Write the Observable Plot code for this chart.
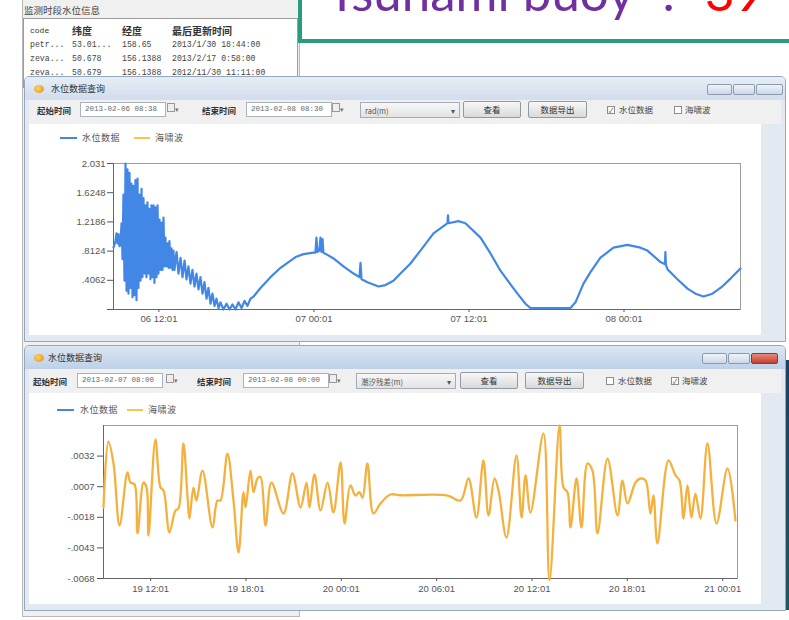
<!DOCTYPE html>
<html><head><meta charset="utf-8">
<script src="https://cdn.jsdelivr.net/npm/d3@7"></script>
<script src="https://cdn.jsdelivr.net/npm/@observablehq/plot@0.6"></script>
<style>
html,body{margin:0;padding:0;background:#fff;}
#root{position:relative;width:789px;height:620px;overflow:hidden;font-family:"Noto Sans CJK SC","Noto Sans",sans-serif;color:#444;}
#root *{box-sizing:border-box;}
.a{position:absolute;white-space:nowrap;}
.mono{font-family:"Liberation Mono","DejaVu Sans Mono",monospace;}
.inp{height:15px;border:1px solid #a9b3c0;background:#fff;font-size:7.5px;color:#666;padding:2px 0 0 4px;}
.cal{width:16px;height:14px;font-size:7px;color:#777;}
.combo{height:16px;border:1px solid #a4acb8;background:linear-gradient(#f7f7f7,#e3e3e3);font-size:7.5px;color:#555;padding:2px 0 0 4px;}
.btn{height:17px;border:1px solid #8f9aa8;border-radius:2px;background:linear-gradient(#f7f7f7,#dadada);font-size:8.5px;color:#333;text-align:center;line-height:15px;}
.chk{width:8px;height:8px;border:1px solid #8d8d8d;background:#fff;font-size:7px;line-height:6px;text-align:center;color:#555;}
.lbl{font-size:8.5px;color:#333;font-weight:bold;}
.wbtn{height:11px;border:1px solid #8b9bb0;background:linear-gradient(#eef3f9,#cdd8e6);border-radius:2px;}
</style></head>
<body><div id="root"></div>
<script>
// ---------- data ----------
const titleText = "Tsunami buoy";
const titleNumber = "39";
const panelTitle = "监测时段水位信息";
const tableHeader = ["code", "纬度", "经度", "最后更新时间"];
const tableRows = [
  ["petr...", "53.01...", "158.65", "2013/1/30 18:44:00"],
  ["zeva...", "50.678", "156.1388", "2013/2/17 0:58:00"],
  ["zeva...", "50.679", "156.1388", "2012/11/30 11:11:00"]
];
const windowTitle = "水位数据查询";
const seriesNames = ["水位数据", "海啸波"];
const seriesColors = ["#4287e6", "#f5b13f"];

// chart 1: water level (m)
const levelStart = "2013-02-06 08:30";
const levelEnd = "2013-02-08 09:02";
const levelHours = [0.00,0.15,0.23,0.31,0.39,0.46,0.54,0.62,0.70,0.77,0.85,0.93,1.01,1.08,1.16,1.24,1.32,1.39,1.47,1.55,1.63,1.70,1.78,1.86,1.93,2.01,2.09,2.17,2.24,2.32,2.40,2.48,2.55,2.63,2.71,2.79,2.86,2.94,3.02,3.10,3.17,3.25,3.33,3.41,3.48,3.56,3.64,3.72,3.79,3.87,3.95,4.02,4.10,4.18,4.26,4.33,4.41,4.49,4.57,4.64,4.72,4.88,5.03,5.19,5.34,5.50,5.65,5.80,5.96,6.11,6.27,6.42,6.58,6.73,6.89,7.04,7.20,7.35,7.51,7.66,7.82,7.97,8.13,8.28,8.51,8.75,8.98,9.21,9.44,9.67,9.91,10.14,10.37,10.60,10.84,11.38,12.15,12.93,13.47,14.09,14.71,15.48,15.63,15.71,15.79,15.94,16.02,16.10,16.18,16.25,16.56,17.03,17.80,18.58,19.04,19.12,19.20,19.66,20.51,21.05,21.67,22.21,22.99,23.76,24.77,25.70,25.85,25.89,25.93,26.70,27.24,28.41,29.18,29.95,30.73,31.27,31.89,32.28,35.37,35.76,36.38,36.92,37.69,38.70,39.78,40.79,41.33,42.34,42.69,42.72,42.76,42.88,43.65,44.43,45.05,45.67,46.36,47.06,47.76,48.53];
const levelValues = [0.86,0.95,1.06,0.92,1.05,0.88,0.90,1.20,0.70,1.60,0.40,2.03,0.26,1.95,0.22,1.90,0.30,1.75,0.17,1.72,0.20,1.80,0.13,1.82,0.30,1.60,0.40,1.68,0.45,1.55,0.50,1.45,0.45,1.49,0.50,1.40,0.42,1.45,0.45,1.45,0.37,1.42,0.45,1.45,0.50,1.25,0.55,1.21,0.55,1.28,0.60,1.00,0.60,0.92,0.58,0.95,0.58,0.85,0.55,0.82,0.55,0.80,0.50,0.72,0.45,0.68,0.42,0.60,0.36,0.55,0.32,0.50,0.28,0.45,0.22,0.38,0.15,0.30,0.08,0.22,0.05,0.15,0.02,0.10,0.00,0.08,0.00,0.07,0.00,0.10,0.02,0.12,0.05,0.15,0.18,0.30,0.45,0.58,0.65,0.73,0.77,0.79,0.79,1.00,0.80,0.82,1.00,0.80,0.98,0.79,0.76,0.71,0.60,0.50,0.45,0.65,0.42,0.38,0.32,0.34,0.40,0.50,0.64,0.82,1.06,1.18,1.20,1.31,1.20,1.23,1.20,1.00,0.78,0.54,0.35,0.22,0.08,0.02,0.02,0.10,0.36,0.52,0.72,0.86,0.90,0.86,0.82,0.66,0.63,0.80,0.62,0.56,0.42,0.29,0.22,0.18,0.22,0.31,0.43,0.57];
const levelYTicks = [0, 0.4062, 0.8124, 1.2186, 1.6248, 2.031];
const levelYLabels = ["", ".4062", ".8124", "1.2186", "1.6248", "2.031"];
const levelXTicks = ["2013-02-06 12:01", "2013-02-07 00:01", "2013-02-07 12:01", "2013-02-08 00:01"];

// chart 2: tsunami wave (m)
const waveStart = "2013-02-19 09:03";
const waveEnd = "2013-02-21 00:57";
const waveHours = [0,0.31,0.63,1.01,1.51,1.70,1.95,2.14,2.52,2.71,2.83,3.27,3.59,3.78,4.15,4.53,4.72,5.03,5.29,5.41,5.66,5.85,6.23,6.86,7.17,7.36,7.80,8.18,8.50,8.81,8.94,9.25,9.44,9.69,9.88,10.20,10.57,11.33,11.89,12.40,12.78,12.96,13.28,13.66,14.10,14.47,14.92,15.17,15.54,15.86,16.11,16.30,16.61,16.99,17.43,18.06,18.69,21.65,22.47,22.97,23.47,23.91,24.23,24.61,24.86,25.36,25.99,26.31,26.56,26.87,27.69,28.07,28.70,28.95,29.20,29.39,29.77,30.08,30.46,30.77,31.09,31.72,32.35,32.66,32.98,33.48,33.79,34.11,34.42,34.61,34.86,35.56,36.00,36.25,36.50,36.75,37.00,37.25,37.57,38.01,38.58,39.27,39.77];
const waveValues = [-0.00100,0.00439,0.00260,-0.00247,0.00186,0.00104,0.00090,-0.00312,0.00104,0.00063,-0.00329,0.00456,0.00063,0.00039,-0.00304,-0.00124,-0.00108,0.00423,-0.00018,-0.00190,0.00063,-0.00043,0.00202,-0.00263,-0.00043,-0.00043,0.00341,-0.00043,-0.00468,0.00025,-0.00098,0.00202,0.00025,0.00137,0.00150,-0.00247,0.00104,-0.00149,0.00178,-0.00100,0.00104,-0.00100,0.00170,-0.00124,0.00104,-0.00140,0.00268,-0.00231,0.00080,-0.00002,0.00025,-0.00020,0.00260,-0.00149,-0.00067,0.00006,0.00000,-0.00002,-0.00043,0.00137,-0.00182,0.00284,-0.00165,0.00137,0.00039,-0.00345,0.00325,-0.00182,0.00162,-0.00141,0.00505,-0.00696,0.00570,0.00063,0.00025,-0.00263,0.00137,-0.00263,0.00260,0.00202,-0.00312,0.00300,-0.00165,0.00121,-0.00067,0.00104,0.00137,0.00121,-0.00149,-0.00002,-0.00394,0.00284,0.00162,0.00121,-0.00190,0.00080,-0.00182,0.00014,-0.00190,0.00423,-0.00231,0.00219,-0.00206];
const waveYTicks = [-0.0068, -0.0043, -0.0018, 0.0007, 0.0032];
const waveYLabels = ["-.0068", "-.0043", "-.0018", ".0007", ".0032"];
const waveYMax = 0.0057;
const waveXTicks = ["2013-02-19 12:01", "2013-02-19 18:01", "2013-02-20 00:01", "2013-02-20 06:01", "2013-02-20 12:01", "2013-02-20 18:01", "2013-02-21 00:01"];

// window controls
const win1Controls = {start: "2013-02-06 08:38", end: "2013-02-08 08:30", combo: "rad(m)", checks: [true, false]};
const win2Controls = {start: "2013-02-07 08:00", end: "2013-02-08 00:00", combo: "潮汐残差(m)", checks: [false, true]};
const labels = {start: "起始时间", end: "结束时间", view: "查看", export: "数据导出"};

// ---------- page ----------
const root = document.getElementById("root");
const add = (h) => root.insertAdjacentHTML("beforeend", h);

// background info panel
add(`<div class="a" style="left:22px;top:-2px;width:278px;height:619px;background:#f0f0f0;border:1px solid #b8b8b8"></div>`);
add(`<div class="a" style="left:24px;top:3px;font-size:9.5px;color:#444">${panelTitle}</div>`);
add(`<div class="a" style="left:23px;top:18px;width:275px;height:70px;background:#fff;border:1px solid #9d9d9d"></div>`);
const colX = [30, 72, 122, 172];
tableHeader.forEach((t, i) => add(`<div class="a ${i === 0 ? "mono" : ""}" style="left:${colX[i]}px;top:${i === 0 ? 26 : 23}px;font-size:${i === 0 ? 8 : 10}px;color:#333;font-weight:${i === 0 ? "normal" : "bold"}">${t}</div>`));
tableRows.forEach((r, j) => r.forEach((t, i) => add(`<div class="a mono" style="left:${colX[i]}px;top:${40 + j * 14}px;font-size:8.2px;color:#444">${t}</div>`)));

// title box
add(`<div class="a" style="left:298px;top:-12px;width:500px;height:55px;background:#fff;border:4px solid #2b9b80"></div>`);
add(`<div class="a" style="left:327px;top:-34px;font-family:Lato,'Open Sans',sans-serif;font-size:51px;line-height:51px;color:#7030a0">${titleText}<span style="margin-left:28px">:</span><span style="margin-left:30px;color:#ff0000">${titleNumber}</span></div>`);

// desktop strip
add(`<div class="a" style="left:782px;top:360px;width:10px;height:250px;background:linear-gradient(#1d3f63,#20575e)"></div>`);

function windowFrame(top, height, active) {
  const g = active ? "linear-gradient(#dbe6f3,#bed1e8)" : "linear-gradient(#e6edf6,#d1dded)";
  add(`<div class="a" style="left:24px;top:${top}px;width:762px;height:${height}px;background:#e3e9f1;border:1px solid #95a7be;border-radius:5px 5px 0 0"></div>`);
  add(`<div class="a" style="left:25px;top:${top + 1}px;width:760px;height:23px;background:${g};border-radius:4px 4px 0 0"></div>`);
  add(`<div class="a" style="left:29px;top:${top + 24}px;width:752px;height:24px;background:#f0f0f0"></div>`);
  add(`<div class="a" style="left:29px;top:${top + 48}px;width:732px;height:${height - 55}px;background:#fff"></div>`);
  add(`<div class="a" style="left:34px;top:${top + 9}px;width:10px;height:8px;border-radius:50%;background:radial-gradient(circle at 40% 40%,#ffd35a,#e08a1e)"></div>`);
  add(`<div class="a" style="left:${active ? 48 : 51}px;top:${top + 6}px;font-size:9px;color:#333">${windowTitle}</div>`);
  const bx = active ? 702 : 707;
  add(`<div class="a wbtn" style="left:${bx}px;top:${top + 8}px;width:25px"></div>`);
  add(`<div class="a wbtn" style="left:${bx + 26}px;top:${top + 8}px;width:22px"></div>`);
  add(`<div class="a wbtn" style="left:${bx + 49}px;top:${top + 8}px;width:27px;${active ? "background:linear-gradient(#e88a7c,#c4402f);border-color:#8e3a30" : ""}"></div>`);
}
function toolbar(y, x, c) {
  add(`<div class="a lbl" style="left:${x[0]}px;top:${y - 6}px">${labels.start}</div>`);
  add(`<div class="a inp mono" style="left:${x[1]}px;top:${y - 8}px;width:86px">${c.start}</div>`);
  add(`<div class="a cal" style="left:${x[2]}px;top:${y - 7}px"><span style="display:inline-block;width:8px;height:9px;border:1px solid #999;background:#eee"></span>▾</div>`);
  add(`<div class="a lbl" style="left:${x[3]}px;top:${y - 6}px">${labels.end}</div>`);
  add(`<div class="a inp mono" style="left:${x[4]}px;top:${y - 8}px;width:86px">${c.end}</div>`);
  add(`<div class="a cal" style="left:${x[5]}px;top:${y - 7}px"><span style="display:inline-block;width:8px;height:9px;border:1px solid #999;background:#eee"></span>▾</div>`);
  add(`<div class="a combo" style="left:${x[6]}px;top:${y - 8}px;width:100px">${c.combo}<span style="position:absolute;right:4px;top:2px">▾</span></div>`);
  add(`<div class="a btn" style="left:${x[7]}px;top:${y - 9}px;width:58px">${labels.view}</div>`);
  add(`<div class="a btn" style="left:${x[8]}px;top:${y - 9}px;width:59px">${labels.export}</div>`);
  add(`<div class="a chk" style="left:${x[9]}px;top:${y - 4}px">${c.checks[0] ? "✓" : ""}</div>`);
  add(`<div class="a" style="left:${x[9] + 12}px;top:${y - 7}px;font-size:8.5px;color:#444">${seriesNames[0]}</div>`);
  add(`<div class="a chk" style="left:${x[10]}px;top:${y - 4}px">${c.checks[1] ? "✓" : ""}</div>`);
  add(`<div class="a" style="left:${x[10] + 11}px;top:${y - 7}px;font-size:8.5px;color:#444">${seriesNames[1]}</div>`);
}
function legend(y, x) {
  add(`<div class="a" style="left:${x[0]}px;top:${y - 1}px;width:17px;height:2px;background:${seriesColors[0]}"></div>`);
  add(`<div class="a" style="left:${x[1]}px;top:${y - 7}px;font-size:9px;letter-spacing:0.5px;color:#555">${seriesNames[0]}</div>`);
  add(`<div class="a" style="left:${x[2]}px;top:${y - 1}px;width:16px;height:2px;background:#f5c64a"></div>`);
  add(`<div class="a" style="left:${x[3]}px;top:${y - 7}px;font-size:9px;letter-spacing:0.5px;color:#555">${seriesNames[1]}</div>`);
}

windowFrame(76, 266, false);
toolbar(110, [37, 80, 167, 202, 246, 332, 360, 463, 528, 607, 674], win1Controls);
legend(138, [60, 82, 134, 155]);

windowFrame(345, 266, true);
toolbar(381, [33, 77, 166, 197, 243, 329, 356, 460, 525, 606, 671], win2Controls);
legend(410, [57, 80, 127, 148]);

// ---------- charts ----------
const parse = d3.utcParse("%Y-%m-%d %H:%M");
const fmt = d3.utcFormat("%d %H:%M");

function series(start, hours, values) {
  const t0 = parse(start).getTime();
  return hours.map((h, i) => ({t: new Date(t0 + h * 3600e3), v: values[i]}));
}

function place(svg, left, top) {
  const d = document.createElement("div");
  d.className = "a";
  d.style.left = left + "px";
  d.style.top = top + "px";
  d.appendChild(svg);
  root.appendChild(d);
}

const axisStyle = {fontSize: "9.5px", fontFamily: "'Liberation Sans',Arial,sans-serif", color: "#555", background: "transparent", overflow: "visible"};

const levelData = series(levelStart, levelHours, levelValues);
const chart1 = Plot.plot({
  width: 700, height: 180,
  marginLeft: 53, marginRight: 20, marginTop: 13, marginBottom: 21,
  style: axisStyle,
  x: {type: "utc", domain: [parse(levelStart), parse(levelEnd)], ticks: levelXTicks.map(parse), tickFormat: fmt, tickSize: 3, tickPadding: 3, label: null},
  y: {domain: [0, levelYTicks[levelYTicks.length - 1]], ticks: levelYTicks, tickFormat: d => levelYLabels[levelYTicks.indexOf(d)], tickSize: 6, tickPadding: 2, label: null},
  marks: [
    Plot.frame({stroke: "#9d9d9d"}),
    Plot.ruleX([parse(levelStart)], {stroke: "#666"}),
    Plot.ruleY([0], {stroke: "#666"}),
    Plot.line(levelData, {x: "t", y: "v", stroke: seriesColors[0], strokeWidth: 2.2, strokeLinejoin: "round"})
  ]
});
place(chart1, 60, 150);

const waveData = series(waveStart, waveHours, waveValues);
const chart2 = Plot.plot({
  width: 700, height: 185,
  marginLeft: 53, marginRight: 13, marginTop: 10, marginBottom: 22,
  style: axisStyle,
  x: {type: "utc", domain: [parse(waveStart), parse(waveEnd)], ticks: waveXTicks.map(parse), tickFormat: fmt, tickSize: 3, tickPadding: 4, label: null},
  y: {domain: [waveYTicks[0], waveYMax], ticks: waveYTicks, tickFormat: d => waveYLabels[waveYTicks.indexOf(d)], tickSize: 6, tickPadding: 3, label: null},
  marks: [
    Plot.frame({stroke: "#9d9d9d"}),
    Plot.ruleX([parse(waveStart)], {stroke: "#666"}),
    Plot.ruleY([waveYTicks[0]], {stroke: "#666"}),
    Plot.line(waveData, {x: "t", y: "v", stroke: seriesColors[1], strokeWidth: 2.3, curve: "catmull-rom", strokeLinejoin: "round"})
  ]
});
place(chart2, 50, 415);
</script>
</body></html>
